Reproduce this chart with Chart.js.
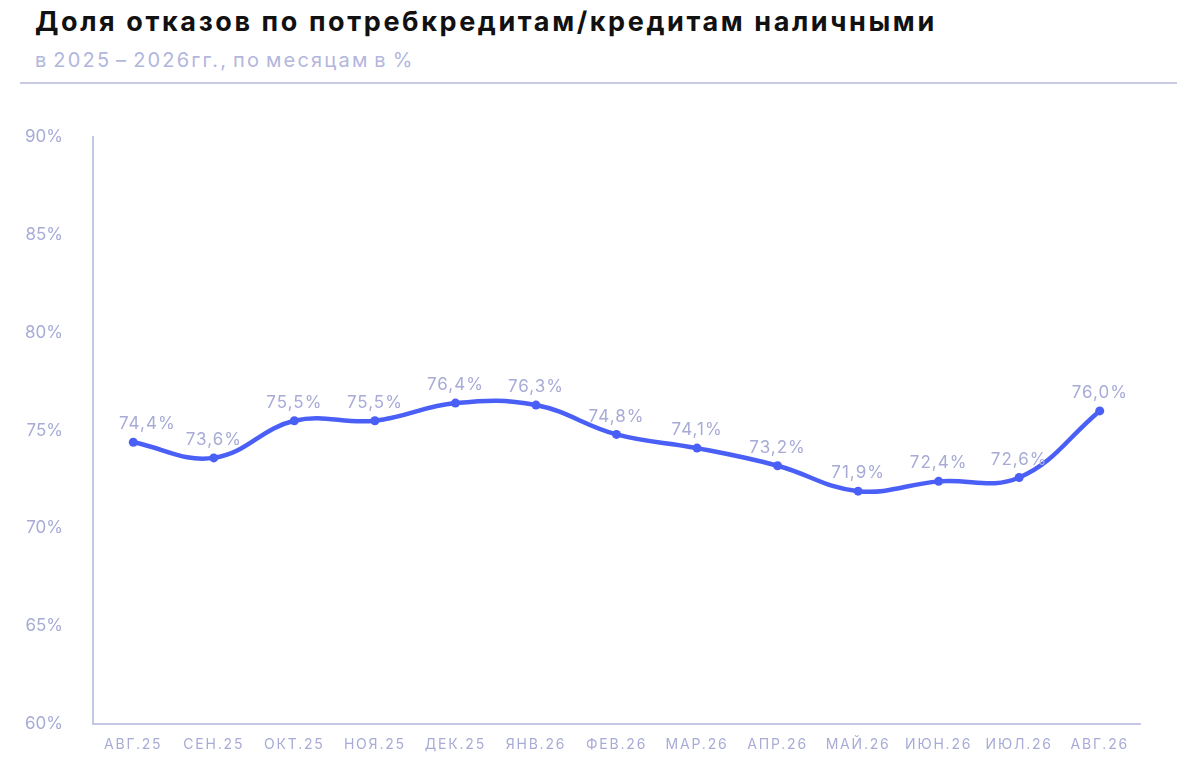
<!DOCTYPE html>
<html lang="ru">
<head>
<meta charset="utf-8">
<script src="https://cdn.jsdelivr.net/npm/chart.js@4.4.1/dist/chart.umd.min.js"></script>
<style>
  html, body { margin:0; padding:0; background:#fff; }
  body { width:1200px; height:780px; position:relative; overflow:hidden; font-family:Inter, "Noto Sans", sans-serif; }
  #title { position:absolute; left:35px; top:5px; font-size:27px; font-weight:700; letter-spacing:2.6px; color:#111; white-space:nowrap; }
  #subtitle { position:absolute; left:35px; top:48px; font-size:20px; letter-spacing:2.2px; word-spacing:-3px; color:#b3b6dd; white-space:nowrap; }
  #sep { position:absolute; left:20px; top:82px; width:1157px; height:2px; background:#c8c9e3; }
  #wrap { position:absolute; left:0; top:0; width:1200px; height:780px; }
</style>
</head>
<body>
<div id="title">Доля отказов по потребкредитам/кредитам наличными</div>
<div id="subtitle">в 2025 – 2026гг., по месяцам в %</div>
<div id="sep"></div>
<div id="wrap"><canvas id="c"></canvas></div>
<script>
// ── данные ───────────────────────
var months = ['АВГ.25','СЕН.25','ОКТ.25','НОЯ.25','ДЕК.25','ЯНВ.26','ФЕВ.26','МАР.26','АПР.26','МАЙ.26','ИЮН.26','ИЮЛ.26','АВГ.26'];
var shareRejected = [74.4, 73.6, 75.5, 75.5, 76.4, 76.3, 74.8, 74.1, 73.2, 71.9, 72.4, 72.6, 76.0];
var yTicks = [60, 65, 70, 75, 80, 85, 90];

var AXIS  = '#c5c7e6';
var MUTED = '#a7abd6';
var LINE  = '#4a5ff6';

// подписи значений над точками
var valueLabels = {
  id: 'valueLabels',
  afterDatasetsDraw: function(chart) {
    var ctx = chart.ctx;
    var meta = chart.getDatasetMeta(0);
    ctx.save();
    ctx.font = '17px Inter, "Noto Sans", sans-serif';
    ctx.fillStyle = MUTED;
    ctx.textAlign = 'center';
    ctx.textBaseline = 'middle';
    ctx.letterSpacing = '1px';
    meta.data.forEach(function(pt, i) {
      var txt = shareRejected[i].toFixed(1).replace('.', ',') + '%';
      var x = pt.x;
      if (i === 0) x += 14;
      ctx.fillText(txt, x, pt.y - 18);
    });
    ctx.restore();
  }
};

// разрядка букв только для подписей оси X
var spacedX = {
  id: 'spacedX',
  beforeDraw: function(chart) {
    var sx = chart.scales.x;
    if (!sx || sx._spaced) return;
    var orig = sx.drawLabels;
    sx.drawLabels = function(area) {
      var ctx = this.ctx;
      ctx.save();
      ctx.letterSpacing = '1.8px';
      orig.call(this, area);
      ctx.restore();
    };
    sx._spaced = true;
  }
};

new Chart(document.getElementById('c').getContext('2d'), {
  type: 'line',
  data: {
    labels: months,
    datasets: [{
      data: shareRejected,
      borderColor: LINE,
      backgroundColor: LINE,
      borderWidth: 4.5,
      pointRadius: 4.5,
      pointBackgroundColor: LINE,
      pointBorderWidth: 0,
      tension: 0.4,
      fill: false
    }]
  },
  options: {
    responsive: true, maintainAspectRatio: false,
    animation: false,
    layout: { padding: { top: 137, right: 60, bottom: 0, left: 0 } },
    plugins: { legend: { display: false }, tooltip: { enabled: false } },
    scales: {
      x: {
        offset: true,
        grid: { display: false, drawTicks: false },
        border: { display: true, color: AXIS, width: 2 },
        ticks: { color: MUTED, font: { size: 14, family: 'Inter, "Noto Sans", sans-serif' }, padding: 12, maxRotation: 0, autoSkip: false },
        afterFit: function(s) { s.height = 56; }
      },
      y: {
        min: 60, max: 90,
        afterBuildTicks: function(s) { s.ticks = yTicks.map(function(v) { return { value: v }; }); },
        grid: { display: false, drawTicks: false },
        border: { display: true, color: AXIS, width: 2 },
        ticks: { color: MUTED, font: { size: 17, family: 'Inter, "Noto Sans", sans-serif' }, padding: 30, callback: function(v) { return v + '%'; } },
        afterFit: function(s) { s.width = 93; }
      }
    }
  },
  plugins: [valueLabels, spacedX]
});
</script>
</body>
</html>
